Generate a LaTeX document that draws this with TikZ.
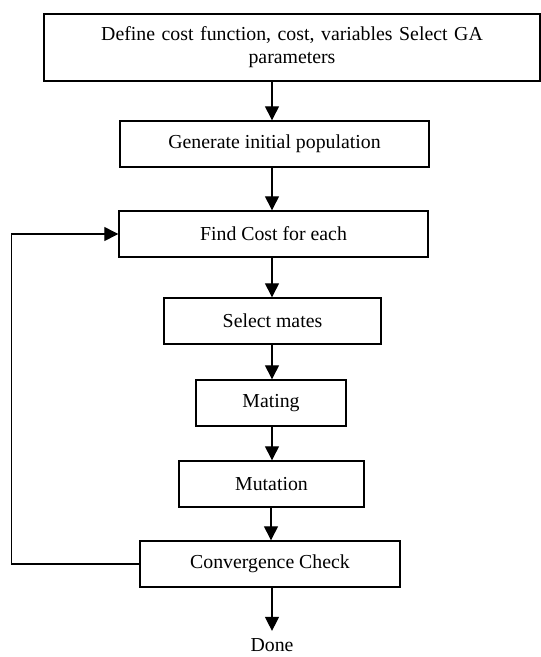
\documentclass[tikz,border=0pt]{standalone}
\usepackage{fontspec}
\setmainfont{Liberation Serif}
\usetikzlibrary{arrows.meta}
\tikzset{
  box/.style={draw,line width=1.4pt,minimum height=46pt,align=center,inner sep=2pt},
  flow/.style={line width=1.3pt,-{Triangle[width=14pt,length=14pt]}}
}
\begin{document}
\begin{tikzpicture}[x=1pt,y=-1pt,font=\fontsize{19.8}{23}\selectfont]
\useasboundingbox (0,0) rectangle (541,657);
\node[box,minimum width=496pt,minimum height=67pt,text width=480pt] (define) at (292,47.5) {Define cost function, cost, variables Select GA\\parameters};
\node[box,minimum width=309pt] (generate) at (274.5,144) {Generate initial population};
\node[box,minimum width=309pt] (cost) at (273.5,234) {Find Cost for each};
\node[box,minimum width=217pt] (select) at (272.5,321) {Select mates};
\node[box,minimum width=150pt] (mating) at (271,403) {Mating};
\node[box,minimum width=185pt] (mutation) at (271.5,484) {Mutation};
\node[box,minimum width=260pt] (conv) at (270,564) {Convergence Check};
\node (done) at (272,645) {Done};
% main flow
\draw[flow] (define.south -| 272,0) -- (generate.north -| 272,0);
\draw[flow] (generate.south -| 272,0) -- (cost.north -| 272,0);
\draw[flow] (cost.south -| 272,0) -- (select.north -| 272,0);
\draw[flow] (select.south -| 272,0) -- (mating.north -| 272,0);
\draw[flow] (mating.south -| 272,0) -- (mutation.north -| 272,0);
\draw[flow] (mutation.south -| 271,0) -- (conv.north -| 271,0);
\draw[flow,shorten >=4pt] (conv.south -| 272,0) -- (done.north -| 272,0);
% loop back
\draw[flow] (conv.west) -- ++(-128,0) |- (cost.west);
\end{tikzpicture}
\end{document}
